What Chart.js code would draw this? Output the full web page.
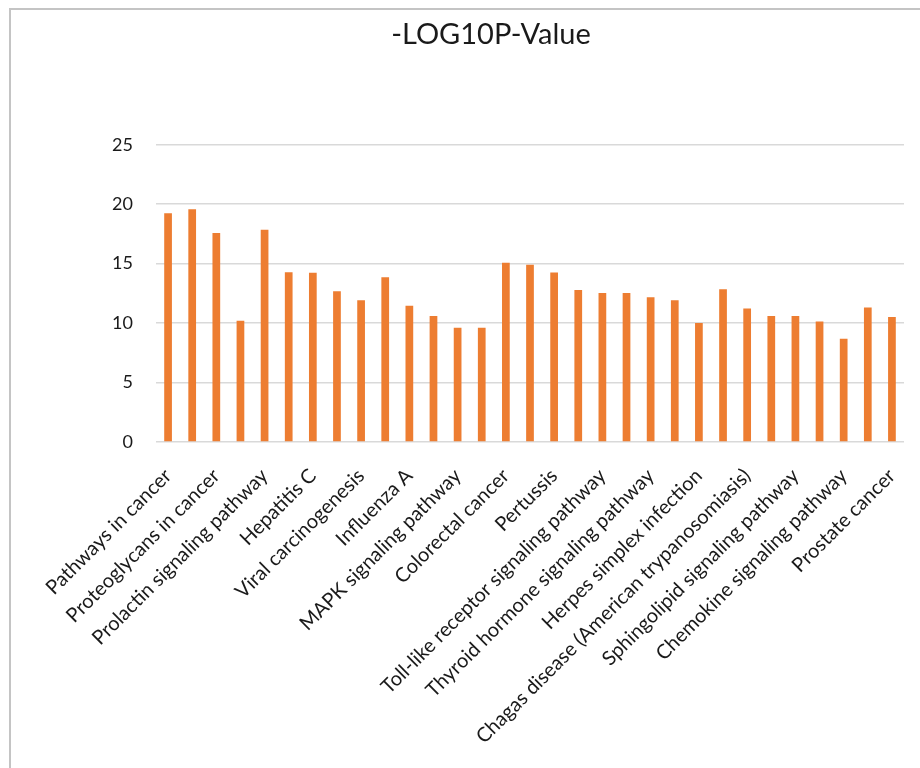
<!DOCTYPE html>
<html>
<head>
<meta charset="utf-8">
<script src="https://cdn.jsdelivr.net/npm/chart.js@4/dist/chart.umd.min.js"></script>
<style>
  html, body { margin: 0; padding: 0; background: #ffffff; overflow: hidden; }
  #frame {
    position: absolute; left: 9px; top: 8px;
    border-left: 2px solid #c4c4c4; border-top: 2px solid #c4c4c4;
    background: #ffffff;
  }
  canvas { display: block; }
</style>
</head>
<body>
<div id="frame"><canvas id="chart" width="960" height="760"></canvas></div>
<script>
// KEGG pathway enrichment, -log10(P) per pathway
const pathways = [
  'Pathways in cancer', 'Hepatitis B',
  'Proteoglycans in cancer', 'Focal adhesion',
  'Prolactin signaling pathway', 'PI3K-Akt signaling pathway',
  'Hepatitis C', 'Tuberculosis',
  'Viral carcinogenesis', 'HIF-1 signaling pathway',
  'Influenza A', 'Pancreatic cancer',
  'MAPK signaling pathway', 'Chronic myeloid leukemia',
  'Colorectal cancer', 'TNF signaling pathway',
  'Pertussis', 'Osteoclast differentiation',
  'Toll-like receptor signaling pathway', 'Bladder cancer',
  'Thyroid hormone signaling pathway', 'FoxO signaling pathway',
  'Herpes simplex infection', 'Leishmaniasis',
  'Chagas disease (American trypanosomiasis)', 'Estrogen signaling pathway',
  'Sphingolipid signaling pathway', 'Salmonella infection',
  'Chemokine signaling pathway', 'Toxoplasmosis',
  'Prostate cancer'
];
const negLog10P = [
  19.24, 19.58, 17.58, 10.20, 17.86, 14.28, 14.23, 12.68,
  11.92, 13.86, 11.46, 10.59, 9.61, 9.61, 15.07, 14.90,
  14.25, 12.79, 12.54, 12.54, 12.17, 11.92, 10.00, 12.85,
  11.24, 10.59, 10.59, 10.14, 8.68, 11.32, 10.51
];
const yTicks = [0, 5, 10, 15, 20, 25];

const FONT = 'Lato, "Open Sans", sans-serif';

new Chart(document.getElementById('chart'), {
  type: 'bar',
  data: {
    labels: pathways,
    datasets: [{
      label: '-LOG10P-Value',
      data: negLog10P,
      backgroundColor: '#ED7D31',
      borderWidth: 0,
      barPercentage: 0.64,
      categoryPercentage: 0.5
    }]
  },
  options: {
    responsive: false,
    animation: false,
    layout: { padding: 0 },
    plugins: {
      legend: { display: false },
      tooltip: { enabled: false },
      title: {
        display: true,
        text: '-LOG10P-Value',
        color: '#1a1a1a',
        font: { family: FONT, size: 29, weight: 'normal' },
        padding: { top: 7, bottom: 93 }
      }
    },
    scales: {
      x: {
        grid: { display: false, drawTicks: false },
        border: { display: false },
        afterFit: s => { s.height = 760 - 432; },
        ticks: {
          autoSkip: false,
          maxRotation: 45,
          minRotation: 45,
          padding: 22,
          color: '#1a1a1a',
          font: { family: FONT, size: 20 },
          callback: function (v, i) { return i % 2 === 0 ? this.getLabelForValue(v) : ''; }
        }
      },
      y: {
        min: 0,
        max: 25,
        afterBuildTicks: s => { s.ticks = yTicks.map(v => ({ value: v })); },
        afterFit: s => { s.width = 145; },
        grid: { color: '#d9d9d9', lineWidth: 1.5, drawTicks: false },
        border: { display: false },
        ticks: {
          padding: 23,
          color: '#1a1a1a',
          font: { family: FONT, size: 18 }
        }
      },
      // empty right-hand margin box, keeps the title centred on the full frame
      yRight: {
        position: 'right',
        afterFit: s => { s.width = 67; },
        grid: { display: false, drawTicks: false },
        border: { display: false },
        ticks: { display: false }
      }
    }
  }
});
</script>
</body>
</html>
